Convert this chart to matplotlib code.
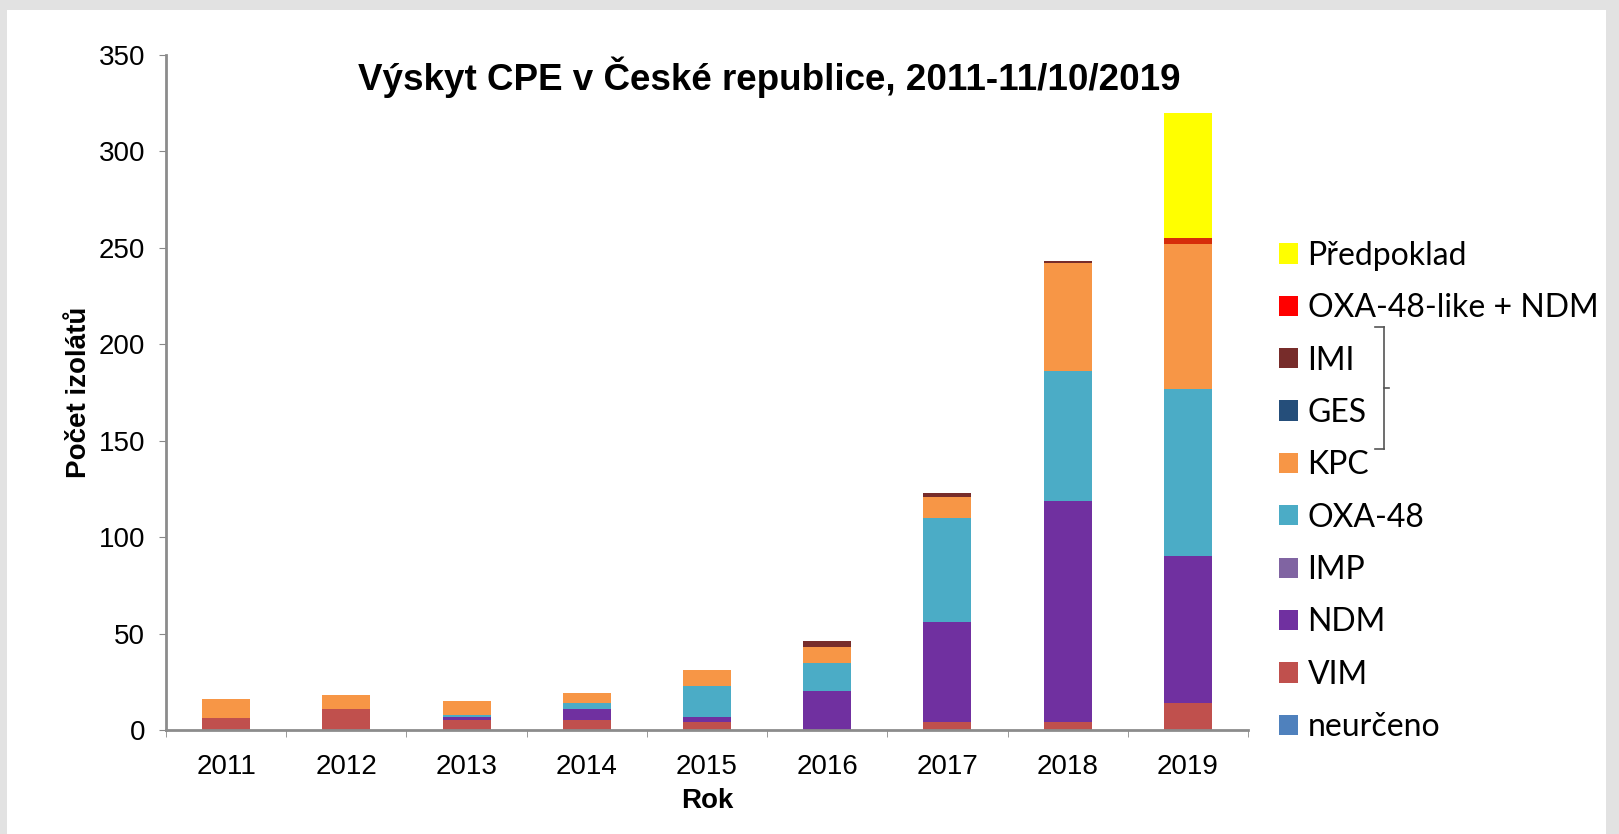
import numpy as np
import matplotlib
matplotlib.use('Agg')
import matplotlib.pyplot as plt
from matplotlib.patches import Rectangle, Patch
from matplotlib.lines import Line2D

# Data (counts per year, stacked bottom -> top)
years = ['2011', '2012', '2013', '2014', '2015', '2016', '2017', '2018', '2019']
neurceno = [0, 0, 0, 0, 0, 0, 0, 0, 0]
vim = [6, 11, 5, 5, 4, 0, 4, 4, 14]
ndm = [0, 0, 2, 6, 3, 20, 52, 115, 76]
imp = [0, 0, 0, 0, 0, 0, 0, 0, 0]
oxa48 = [0, 0, 1, 3, 16, 15, 54, 67, 87]
kpc = [10, 7, 7, 5, 8, 8, 11, 56, 75]
ges = [0, 0, 0, 0, 0, 0, 0, 0, 0]
imi = [0, 0, 0, 0, 0, 3, 2, 1, 0]
oxa_ndm = [0, 0, 0, 0, 0, 0, 0, 0, 3]
predpoklad = [0, 0, 0, 0, 0, 0, 0, 0, 65]

series_names = ['neurčeno', 'VIM', 'NDM', 'IMP', 'OXA-48', 'KPC', 'GES', 'IMI',
                'OXA-48-like + NDM', 'Předpoklad']
series_values = [neurceno, vim, ndm, imp, oxa48, kpc, ges, imi, oxa_ndm, predpoklad]
bar_colors = ['#4F81BD', '#C0504D', '#7030A0', '#8064A2', '#4BACC6', '#F79646',
              '#254E7A', '#772C2A', '#D62D0A', '#FFFF00']
legend_colors = ['#4F81BD', '#C0504D', '#7030A0', '#8064A2', '#4BACC6', '#F79646',
                 '#254E7A', '#772C2A', '#FF0000', '#FFFF00']

W, H = 1619, 834
fig = plt.figure(figsize=(W / 100, H / 100), dpi=100)
fig.patch.set_facecolor('#e2e2e2')
# white card inside the grey frame
fig.patches.append(Rectangle((7 / W, 0), (1606 - 7) / W, (H - 10) / H,
                             transform=fig.transFigure, facecolor='white',
                             edgecolor='none', zorder=-5))

ax = fig.add_axes([166 / W, (H - 730) / H, (1248 - 166) / W, (730 - 55) / H])
ax.set_facecolor('none')
ax.set_zorder(2)

x = np.arange(len(years))
bottom = np.zeros(len(years))
for name, vals, col in zip(series_names, series_values, bar_colors):
    ax.bar(x, vals, width=0.4, bottom=bottom, color=col, linewidth=0, zorder=2)
    bottom += np.array(vals)

ax.set_xlim(-0.5, len(years) - 0.5)
ax.set_ylim(0, 350)
ax.set_yticks(np.arange(0, 351, 50))

axis_font = 'Liberation Sans'
ax.set_xticks(x)
ax.set_xticklabels(years, fontsize=20, family=axis_font)
ax.set_xticks(np.arange(-0.5, len(years), 1.0), minor=True)
ax.tick_params(axis='x', which='major', length=0, pad=17)
ax.tick_params(axis='x', which='minor', length=5, color='#888888', direction='out')
ax.tick_params(axis='y', length=5, color='#888888', labelsize=20, pad=10)
for lab in ax.get_yticklabels():
    lab.set_family(axis_font)

for side in ['top', 'right']:
    ax.spines[side].set_visible(False)
for side in ['left', 'bottom']:
    ax.spines[side].set_color('#8c8c8c')
    ax.spines[side].set_linewidth(2)

ax.set_xlabel('Rok', fontsize=20, fontweight='bold', family=axis_font, labelpad=6)
ax.set_ylabel('Počet izolátů', fontsize=20, fontweight='bold', family=axis_font, labelpad=5)

fig.text(769 / W, 1 - 77 / H, 'Výskyt CPE v České republice, 2011-11/10/2019',
         ha='center', va='center', fontsize=26.5, fontweight='bold', family=axis_font)

# legend, top entry first
handles = [Patch(facecolor=c, edgecolor='none') for c in legend_colors[::-1]]
leg = fig.legend(handles, series_names[::-1], loc='upper left',
                 bbox_to_anchor=(1266 / W, 1 - 228 / H), frameon=False,
                 prop={'family': 'Lato', 'size': 23},
                 handlelength=0.6, handleheight=0.6, handletextpad=0.3,
                 labelspacing=0.7, borderaxespad=0)

# bracket grouping IMI and GES
bx, by0, by1 = 1384, 327, 449
for xs, ys in [([1375, bx], [by0, by0]), ([bx, bx], [by0, by1]),
               ([1375, bx], [by1, by1]), ([bx, 1389], [388, 388])]:
    fig.add_artist(Line2D([v / W for v in xs], [1 - v / H for v in ys],
                          transform=fig.transFigure, color='#555555', linewidth=1.2))

fig.savefig('out.png', dpi=100, facecolor=fig.get_facecolor())
